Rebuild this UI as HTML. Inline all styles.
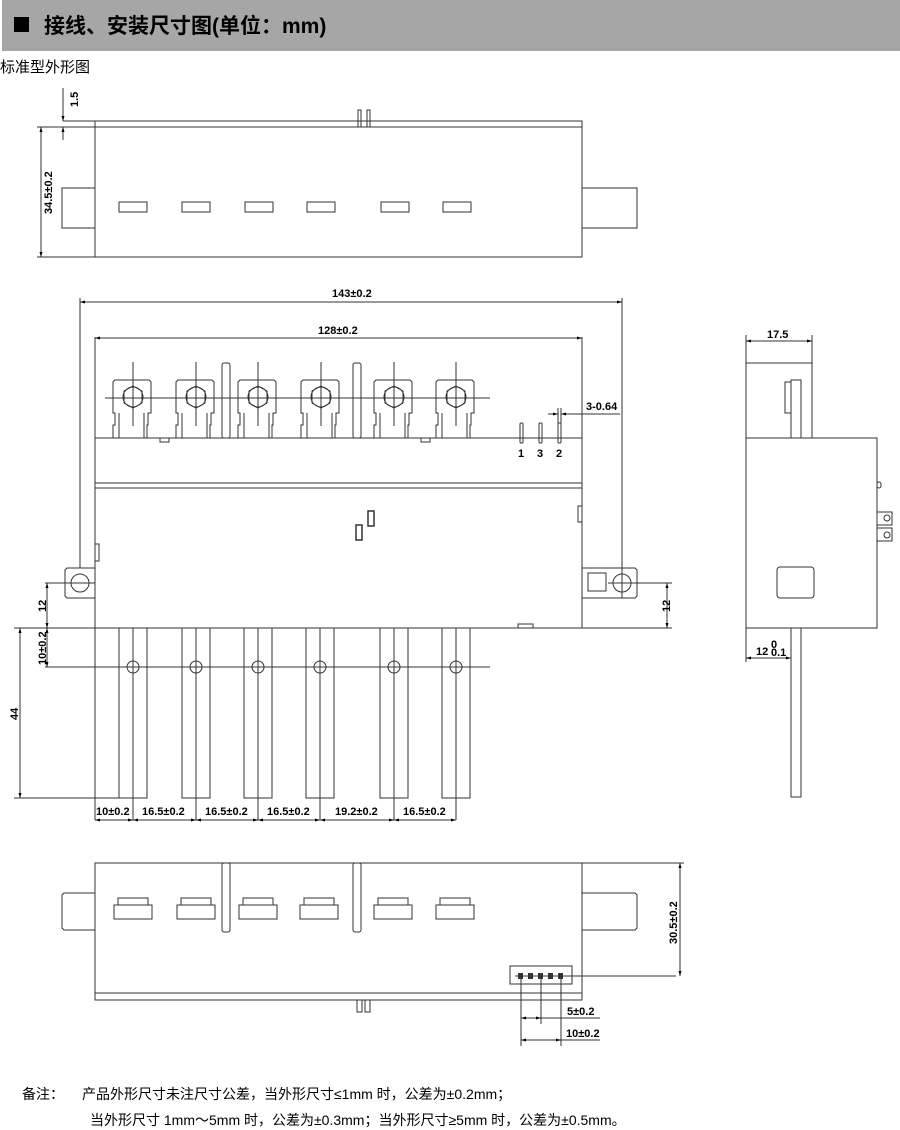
<!DOCTYPE html>
<html><head><meta charset="utf-8"><style>
body{margin:0;background:#fff;width:900px;height:1130px;overflow:hidden}
svg{display:block}
text{font-family:"Liberation Sans","Noto Sans CJK SC",sans-serif;fill:#000}
.d{font-size:11px;font-weight:bold}
</style></head><body>
<svg width="900" height="1130" viewBox="0 0 900 1130" xmlns="http://www.w3.org/2000/svg">
<defs>
<marker id="a" viewBox="0 0 10 10" refX="10" refY="5" markerWidth="7" markerHeight="5" orient="auto-start-reverse"><path d="M0,2 L10,5 L0,8z" fill="#000"/></marker>
</defs>
<rect x="2" y="0" width="898" height="51" fill="#a6a6a6"/>
<rect x="14" y="17" width="15" height="15" fill="#000"/>
<text x="44" y="33" font-size="21" font-weight="bold">接线、安装尺寸图(单位：mm)</text>
<text x="0" y="72" font-size="15">标准型外形图</text>

<g fill="none" stroke="#333" stroke-width="1">
<!-- TOP VIEW -->
<rect x="95" y="121" width="487" height="136"/>
<line x1="95" y1="127" x2="582" y2="127"/>
<path d="M95,188 H62 V228 H95 M582,188 H637 V228 H582"/>
<rect x="119" y="202" width="28" height="10"/><rect x="182" y="202" width="28" height="10"/>
<rect x="245" y="202" width="28" height="10"/><rect x="307" y="202" width="28" height="10"/>
<rect x="381" y="202" width="28" height="10"/><rect x="443" y="202" width="28" height="10"/>
<path d="M289,127 V110 H292 V127 M298,127 V110 H301 V127" transform="translate(69,0)"/>
<line x1="37" y1="127" x2="95" y2="127"/><line x1="37" y1="257" x2="95" y2="257"/>
<line x1="41" y1="127" x2="41" y2="257" marker-start="url(#a)" marker-end="url(#a)"/>
<line x1="63" y1="121" x2="95" y2="121"/>
<line x1="63" y1="88" x2="63" y2="121" marker-end="url(#a)"/>
<line x1="63" y1="140" x2="63" y2="127" marker-end="url(#a)"/>

<!-- FRONT VIEW -->
<line x1="95" y1="438" x2="582" y2="438"/>
<rect x="95" y="438" width="487" height="190"/>
<line x1="95" y1="483" x2="582" y2="483"/><line x1="95" y1="488" x2="582" y2="488"/>
<line x1="95" y1="337" x2="95" y2="438"/><line x1="582" y1="337" x2="582" y2="438"/>
<line x1="95" y1="338" x2="582" y2="338" marker-start="url(#a)" marker-end="url(#a)"/>
<line x1="80" y1="298" x2="80" y2="568"/><line x1="622" y1="298" x2="622" y2="568"/>
<line x1="80" y1="302" x2="622" y2="302" marker-start="url(#a)" marker-end="url(#a)"/>
<g id="t">
<path d="M113,438 V425 H115 V413 H113 V382 L115,380 H149 L151,382 V413 H148 V425 H147 V438"/>
<path d="M119,438 V413 M144,438 V413"/>
<polygon points="133,386 142,391 142,403 133,408 124,403 124,391"/>
<circle cx="133" cy="397" r="10"/>
<line x1="133" y1="362" x2="133" y2="426"/>
</g>
<use href="#t" x="63"/><use href="#t" x="125"/><use href="#t" x="188"/><use href="#t" x="261"/><use href="#t" x="323"/>
<line x1="105" y1="398" x2="490" y2="398"/>
<rect x="222" y="363" width="8" height="75" rx="2"/><rect x="353" y="363" width="8" height="75" rx="2"/>
<rect x="160" y="438" width="9" height="4"/><rect x="421" y="438" width="9" height="4"/>
<rect x="520" y="423" width="3" height="20" rx="1"/><rect x="539" y="423" width="3" height="20" rx="1"/><rect x="558" y="423" width="3" height="20" rx="1"/>
<line x1="548" y1="414" x2="558" y2="414" marker-end="url(#a)"/>
<line x1="620" y1="414" x2="561" y2="414" marker-end="url(#a)"/>
<line x1="558" y1="408" x2="558" y2="423"/><line x1="561" y1="408" x2="561" y2="423"/>
<rect x="356" y="525" width="6" height="15" stroke-width="1.5"/><rect x="368" y="511" width="6" height="15" stroke-width="1.5"/>
<rect x="578" y="506" width="4" height="16"/><rect x="95" y="544" width="4" height="17"/>
<rect x="518" y="624" width="15" height="4"/>
<path d="M95,568 H67 L65,570 V596 L67,598 H95"/>
<circle cx="80" cy="583" r="9"/><line x1="66" y1="583" x2="95" y2="583"/>
<path d="M582,568 H635 L637,570 V596 L635,598 H582"/>
<rect x="588" y="573" width="18" height="18"/>
<circle cx="622" cy="583" r="9"/><line x1="622" y1="568" x2="622" y2="598"/>
<line x1="608" y1="583" x2="672" y2="583"/>
<line x1="582" y1="628" x2="672" y2="628"/>
<line x1="667" y1="583" x2="667" y2="628" marker-start="url(#a)" marker-end="url(#a)"/>
<!-- pins -->
<g id="p"><rect x="119" y="628" width="28" height="170"/><line x1="133" y1="628" x2="133" y2="820"/><circle cx="133" cy="667" r="6"/></g>
<use href="#p" x="63"/><use href="#p" x="125"/><use href="#p" x="187"/><use href="#p" x="261"/><use href="#p" x="323"/>
<line x1="95" y1="628" x2="95" y2="820"/>
<line x1="45" y1="667" x2="490" y2="667"/>
<line x1="45" y1="583" x2="80" y2="583"/>
<line x1="14" y1="628" x2="95" y2="628"/>
<line x1="14" y1="798" x2="119" y2="798"/>
<line x1="47" y1="583" x2="47" y2="628" marker-start="url(#a)" marker-end="url(#a)"/>
<line x1="47" y1="628" x2="47" y2="667" marker-start="url(#a)" marker-end="url(#a)"/>
<line x1="20" y1="628" x2="20" y2="798" marker-start="url(#a)" marker-end="url(#a)"/>
<line x1="95" y1="820" x2="456" y2="820"/>
<g marker-end="url(#a)"><line x1="114" y1="820" x2="133" y2="820"/><line x1="114" y1="820" x2="95" y2="820"/>
<line x1="165" y1="820" x2="196" y2="820"/><line x1="165" y1="820" x2="133" y2="820"/>
<line x1="227" y1="820" x2="258" y2="820"/><line x1="227" y1="820" x2="196" y2="820"/>
<line x1="289" y1="820" x2="320" y2="820"/><line x1="289" y1="820" x2="258" y2="820"/>
<line x1="357" y1="820" x2="394" y2="820"/><line x1="357" y1="820" x2="320" y2="820"/>
<line x1="425" y1="820" x2="456" y2="820"/><line x1="425" y1="820" x2="394" y2="820"/></g>

<!-- SIDE VIEW -->
<rect x="746" y="363" width="66" height="75"/>
<rect x="746" y="438" width="131" height="190"/>
<path d="M791,438 V380 H801 V438 M791,413 H785 V382 H791"/>
<rect x="777" y="567" width="37" height="31" rx="3"/>
<path d="M877,512 H892 V525 H877 M877,528 H892 V541 H877"/>
<circle cx="887" cy="518" r="3"/><circle cx="887" cy="535" r="3"/>
<rect x="877" y="482" width="4" height="6" rx="2"/>
<rect x="791" y="628" width="10" height="169"/>
<line x1="746" y1="335" x2="746" y2="363"/><line x1="812" y1="335" x2="812" y2="363"/>
<line x1="746" y1="341" x2="812" y2="341" marker-start="url(#a)" marker-end="url(#a)"/>
<line x1="746" y1="628" x2="746" y2="662"/>
<line x1="746" y1="658" x2="791" y2="658" marker-start="url(#a)" marker-end="url(#a)"/>

<!-- BOTTOM VIEW -->
<rect x="95" y="863" width="487" height="137"/>
<line x1="95" y1="993" x2="582" y2="993"/>
<path d="M95,893 H64 L62,895 V928 L64,930 H95 M582,893 H635 L637,895 V928 L635,930 H582"/>
<g id="s"><path d="M114,919 V905 H118 V898 H148 V905 H152 V919Z M118,905 H148"/></g>
<use href="#s" x="63"/><use href="#s" x="125"/><use href="#s" x="186"/><use href="#s" x="260"/><use href="#s" x="322"/>
<rect x="222" y="863" width="8" height="69" rx="2"/><rect x="353" y="863" width="8" height="69" rx="2"/>
<path d="M357,1000 V1012 H362 V1000 M365,1000 V1012 H370 V1000"/>
<rect x="510" y="966" width="62" height="18"/>
<line x1="515" y1="976" x2="676" y2="976"/>
<line x1="521" y1="976" x2="521" y2="1046"/><line x1="541" y1="976" x2="541" y2="1024"/><line x1="561" y1="976" x2="561" y2="1046"/>
<line x1="582" y1="863" x2="684" y2="863"/>
<line x1="680" y1="863" x2="680" y2="976" marker-start="url(#a)" marker-end="url(#a)"/>
<line x1="521" y1="1018" x2="541" y2="1018" marker-start="url(#a)" marker-end="url(#a)"/>
<line x1="541" y1="1018" x2="600" y2="1018"/>
<line x1="521" y1="1040" x2="561" y2="1040" marker-start="url(#a)" marker-end="url(#a)"/>
<line x1="561" y1="1040" x2="600" y2="1040"/>
</g>
<g fill="#333"><rect x="518" y="973" width="5" height="6"/><rect x="528" y="973" width="5" height="6"/><rect x="538" y="973" width="5" height="6"/><rect x="548" y="973" width="5" height="6"/><rect x="558" y="973" width="5" height="6"/></g>

<g class="d">
<text class="d" transform="translate(78,107) rotate(-90)">1.5</text>
<text class="d" transform="translate(52,214) rotate(-90)">34.5±0.2</text>
<text class="d" x="332" y="297">143±0.2</text>
<text class="d" x="318" y="334">128±0.2</text>
<text class="d" x="586" y="410">3-0.64</text>
<text class="d" x="518" y="457" font-size="9">1</text><text class="d" x="537" y="457" font-size="9">3</text><text class="d" x="556" y="457" font-size="9">2</text>
<text class="d" transform="translate(46,612) rotate(-90)">12</text>
<text class="d" transform="translate(46,665) rotate(-90)">10±0.2</text>
<text class="d" transform="translate(18,720) rotate(-90)">44</text>
<text class="d" transform="translate(670,612) rotate(-90)">12</text>
<text class="d" x="96" y="815">10±0.2</text>
<text class="d" x="142" y="815">16.5±0.2</text>
<text class="d" x="205" y="815">16.5±0.2</text>
<text class="d" x="267" y="815">16.5±0.2</text>
<text class="d" x="335" y="815">19.2±0.2</text>
<text class="d" x="403" y="815">16.5±0.2</text>
<text class="d" x="767" y="338">17.5</text>
<text class="d" x="756" y="655">12</text>
<text class="d" x="771" y="648" font-size="8">0</text><text class="d" x="771" y="656" font-size="8">0.1</text>
<text class="d" transform="translate(677,944) rotate(-90)">30.5±0.2</text>
<text class="d" x="567" y="1015">5±0.2</text>
<text class="d" x="566" y="1037">10±0.2</text>
</g>
<text x="22" y="1099" font-size="14">备注：</text>
<text x="82" y="1099" font-size="14">产品外形尺寸未注尺寸公差，当外形尺寸≤1mm 时，公差为±0.2mm；</text>
<text x="90" y="1125" font-size="14">当外形尺寸 1mm～5mm 时，公差为±0.3mm；当外形尺寸≥5mm 时，公差为±0.5mm。</text>
</svg>
</body></html>
